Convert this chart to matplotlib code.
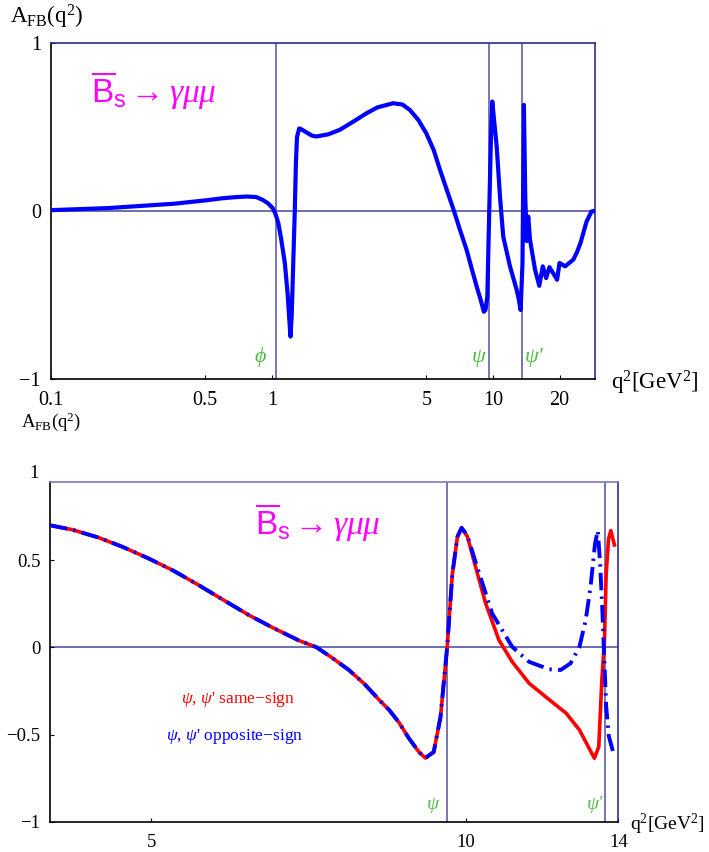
import numpy as np
import matplotlib.pyplot as plt

plt.rcParams['font.family'] = ['Liberation Serif', 'DejaVu Serif']
plt.rcParams['mathtext.fontset'] = 'custom'
plt.rcParams['mathtext.rm'] = 'Liberation Serif'
plt.rcParams['mathtext.it'] = 'Liberation Serif:italic'
plt.rcParams['mathtext.sf'] = 'Liberation Sans'

# resonance positions (q^2 in GeV^2)
m2_phi = 1.04
m2_psi = 9.59
m2_psi2 = 13.59

# top panel: A_FB over the full q^2 range
q2_top = [0.10, 0.18, 0.36, 0.50, 0.60, 0.68, 0.77, 0.85, 0.91, 0.96, 1.01, 1.04, 1.07,
          1.10, 1.145, 1.18, 1.20, 1.215, 1.23, 1.25, 1.27, 1.285, 1.30, 1.33, 1.36,
          1.44, 1.52, 1.59, 1.8, 2.03, 2.3, 2.68, 3.0, 3.54, 3.9, 4.21, 4.6, 5.0, 5.4,
          5.76, 6.2, 6.66, 7.1, 7.6, 8.0, 8.44, 8.8, 9.1, 9.25, 9.43, 9.62, 9.80, 9.93,
          10.1, 10.4, 10.76, 11.13, 11.94, 12.8, 13.1, 13.34, 13.6, 13.8, 14.0, 14.2,
          14.44, 14.7, 15.5, 16.2, 16.8, 17.4, 18.0, 18.7, 19.5, 20.0, 21.2, 23.1, 24.0,
          24.9, 26.5, 27.9, 29.0]
afb_top = [0.004, 0.016, 0.042, 0.062, 0.075, 0.081, 0.085, 0.082, 0.065, 0.045, 0.016, -0.02, -0.073,
           -0.16, -0.31, -0.50, -0.65, -0.748, -0.62, -0.31, 0.0, 0.284, 0.44, 0.49, 0.485,
           0.465, 0.447, 0.442, 0.455, 0.482, 0.525, 0.58, 0.615, 0.64, 0.632, 0.60, 0.54, 0.46, 0.36,
           0.244, 0.12, 0.0, -0.115, -0.232, -0.34, -0.45, -0.53, -0.60, -0.59, -0.51, 0.0, 0.45, 0.65,
           0.55, 0.38, 0.085, -0.153, -0.33, -0.47, -0.53, -0.59, -0.31, 0.63, 0.085, -0.18,
           -0.034, -0.17, -0.35, -0.446, -0.33, -0.40, -0.335, -0.37, -0.41, -0.31, -0.33, -0.29, -0.245,
           -0.19, -0.064, -0.004, 0.0]

# bottom panel: zoom 4..14 GeV^2, two sign conventions
q2_same = [4.0, 4.2, 4.45, 4.7, 4.97, 5.25, 5.54, 5.85, 6.2, 6.55, 6.92, 7.2, 7.45, 7.73,
           8.0, 8.26, 8.45, 8.63, 8.82, 9.02, 9.15, 9.32, 9.46, 9.6, 9.71, 9.82, 9.91,
           10.04, 10.22, 10.45, 10.76, 11.08, 11.5, 12.02, 12.48, 12.85, 13.13, 13.28,
           13.41, 13.5, 13.58, 13.63, 13.7, 13.77, 13.88]
afb_same = [0.70, 0.675, 0.63, 0.575, 0.51, 0.44, 0.36, 0.275, 0.185, 0.11, 0.04, 0.0, -0.06, -0.13,
            -0.21, -0.30, -0.36, -0.43, -0.52, -0.60, -0.635, -0.60, -0.40, 0.0, 0.42, 0.634, 0.686,
            0.634, 0.462, 0.252, 0.042, -0.083, -0.206, -0.30, -0.378, -0.474, -0.58, -0.636,
            -0.57, -0.19, 0.042, 0.42, 0.62, 0.67, 0.587]

q2_opp = [4.0, 4.2, 4.45, 4.7, 4.97, 5.25, 5.54, 5.85, 6.2, 6.55, 6.92, 7.2, 7.45, 7.73,
          8.0, 8.26, 8.45, 8.63, 8.82, 9.02, 9.15, 9.32, 9.46, 9.6, 9.71, 9.82, 9.91,
          10.04, 10.22, 10.6, 11.08, 11.5, 12.02, 12.33, 12.6, 12.85, 13.03, 13.17, 13.3,
          13.38, 13.45, 13.52, 13.57, 13.63, 13.71, 13.88]
afb_opp = [0.70, 0.675, 0.63, 0.575, 0.51, 0.44, 0.36, 0.275, 0.185, 0.11, 0.04, 0.0, -0.06, -0.13,
           -0.21, -0.30, -0.36, -0.43, -0.52, -0.60, -0.635, -0.60, -0.40, 0.0, 0.42, 0.634, 0.686,
           0.64, 0.49, 0.195, 0.003, -0.083, -0.126, -0.13, -0.092, 0.003, 0.157, 0.35, 0.596,
           0.67, 0.48, 0.195, -0.054, -0.34, -0.51, -0.627]

top_ticks = [0.1, 0.5, 1, 5, 10, 20]
top_ticklabels = ['0.1', '0.5', '1', '5', '10', '20']
bot_ticks = [5, 10, 14]
bot_ticklabels = ['5', '10', '14']

frame_col = '#2b2b96'
grid_col = '#6b6bb0'
green = '#4fbf45'
magenta = '#ff00ff'
title = r'$\overline{\mathsf{B}}_{\mathsf{s}}\rightarrow\gamma\mu\mu$'

fig = plt.figure(figsize=(7.09, 8.52), dpi=100)
ax1 = fig.add_axes([0.0715, 0.5552, 0.768, 0.3947])
ax2 = fig.add_axes([0.0705, 0.0356, 0.8016, 0.399])

for ax in (ax1, ax2):
    ax.set_xscale('log')
    ax.minorticks_off()
    ax.spines['left'].set_color('black')
    ax.spines['bottom'].set_color('black')
    ax.spines['right'].set_color(frame_col)
    ax.spines['top'].set_color(frame_col)
    for s in ax.spines.values():
        s.set_linewidth(1.2)
    ax.tick_params(direction='in', length=3, width=0.8, top=False, right=False)
    ax.axhline(0, color='#55559e', lw=1.2, zorder=1)

# ---- top panel
ax1.plot(q2_top, afb_top, color='#0000ff', lw=3, zorder=3)
for m in (m2_phi, m2_psi, m2_psi2):
    ax1.axvline(m, color=grid_col, lw=1.3, zorder=1)
ax1.set_xlim(0.1, 29.0)
ax1.set_ylim(-1, 1)
ax1.set_xticks(top_ticks)
ax1.set_xticklabels(top_ticklabels)
ax1.set_yticks([-1, 0, 1])
ax1.set_yticklabels(['\u22121', '0', '1'])
ax1.tick_params(axis='y', labelsize=14.5, pad=7)
ax1.tick_params(axis='x', labelsize=14.5, pad=9)
ax1.text(0.074, 0.82, title, transform=ax1.transAxes, color=magenta, fontsize=24)
ax1.text(0.89, -0.9, '\u03d5', color=green, fontsize=16, style='italic', ha='center')
ax1.text(8.6, -0.9, '\u03c8', color=green, fontsize=16, style='italic', ha='center')
ax1.text(15.4, -0.9, "\u03c8'", color=green, fontsize=16, style='italic', ha='center')
fig.text(0.014, 0.98, r'A$_{\mathrm{FB}}$(q$^2$)', fontsize=16.5, va='center')
fig.text(0.862, 0.551, r'q$^2$[GeV$^2$]', fontsize=16.5, va='center')

# ---- bottom panel
ax2.plot(q2_same, afb_same, color='#ff0000', lw=2.6, zorder=3)
ax2.plot(q2_opp, afb_opp, color='#0000ff', lw=2.8, zorder=4,
         dashes=(4.5, 1.6, 0.6, 1.6))
for m in (m2_psi, m2_psi2):
    ax2.axvline(m, color=grid_col, lw=1.3, zorder=1)
ax2.spines['top'].set_color('#7a7abb')
ax2.set_xlim(4.0, 14.0)
ax2.set_ylim(-1, 0.95)
ax2.set_xticks(bot_ticks)
ax2.set_xticklabels(bot_ticklabels)
ax2.set_yticks([-1, -0.5, 0, 0.5])
ax2.set_yticklabels(['\u22121', '\u22120.5', '0', '0.5'])
ax2.tick_params(axis='y', labelsize=13.5, pad=7)
ax2.tick_params(axis='x', labelsize=13.5, pad=9)
ax2.text(-0.02, 1.0, '1', transform=ax2.get_yaxis_transform(), fontsize=13.5,
         ha='right', va='center', clip_on=False)
ax2.text(0.361, 0.843, title, transform=ax2.transAxes, color=magenta, fontsize=24)
ax2.text(9.3, -0.93, '\u03c8', color=green, fontsize=14, style='italic', ha='center')
ax2.text(13.3, -0.93, "\u03c8'", color=green, fontsize=14, style='italic', ha='center')
ax2.text(0.33, 0.358, r"$\psi$, $\psi$' same$-$sign", transform=ax2.transAxes,
         color='#ff0000', fontsize=12.5, ha='center', va='center')
ax2.text(0.325, 0.25, r"$\psi$, $\psi$' opposite$-$sign", transform=ax2.transAxes,
         color='#0000ff', fontsize=12.5, ha='center', va='center')
fig.text(0.03, 0.505, r'A$_{\mathrm{FB}}$(q$^2$)', fontsize=13.5, va='center')
fig.text(0.888, 0.032, r'q$^2$[GeV$^2$]', fontsize=14, va='center')

fig.savefig('out.png', dpi=100)
